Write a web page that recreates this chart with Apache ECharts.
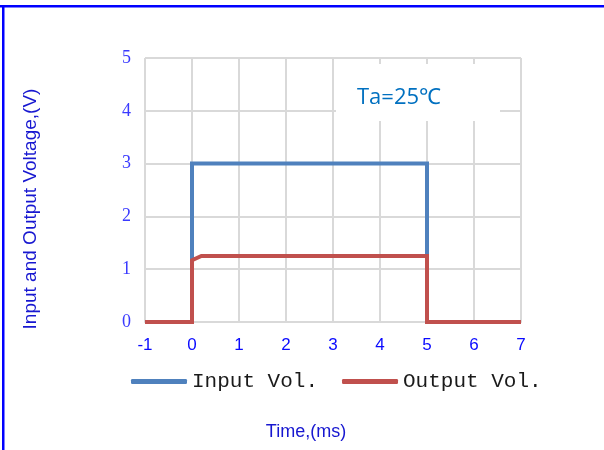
<!DOCTYPE html>
<html>
<head>
<meta charset="utf-8">
<script src="https://cdn.jsdelivr.net/npm/echarts@6/dist/echarts.min.js"></script>
<style>html,body{margin:0;padding:0;background:#fff;}#c{width:604px;height:450px;}</style>
</head>
<body>
<div id="c"></div>
<script>
var xTicks = [-1, 0, 1, 2, 3, 4, 5, 6, 7];
var yTicks = [0, 1, 2, 3, 4, 5];
var inputX = [-1, 0, 0, 5, 5, 7];
var inputY = [0, 0, 3, 3, 0, 0];
var outputX = [-1, 0, 0, 0.2, 5, 5, 7];
var outputY = [0, 0, 1.17, 1.25, 1.25, 0, 0];
var seriesNames = ['Input Vol.', 'Output Vol.'];
var xTitle = 'Time,(ms)';
var yTitle = 'Input and Output Voltage,(V)';
var note = 'Ta=25℃';

function pairs(xs, ys) { return xs.map(function (x, i) { return [x, ys[i]]; }); }

var chart = echarts.init(document.getElementById('c'), null, {renderer: 'canvas'});
var gridColor = '#d9d9d9';
chart.setOption({
  animation: false,
  backgroundColor: '#ffffff',
  grid: {left: 145, right: 83, top: 58, bottom: 128, containLabel: false},
  legend: {
    data: seriesNames,
    left: 131, top: 371, padding: 0,
    icon: 'roundRect', itemWidth: 56, itemHeight: 5, itemGap: 24,
    textStyle: {fontFamily: 'Liberation Mono', fontSize: 21, color: '#1a1a1a'}
  },
  xAxis: {
    type: 'value', min: xTicks[0], max: xTicks[xTicks.length - 1], interval: 1,
    axisLine: {show: true, lineStyle: {color: gridColor, width: 2}},
    axisTick: {show: false},
    axisLabel: {margin: 15, fontFamily: 'Liberation Sans', fontSize: 17, color: '#0a0aff'},
    splitLine: {show: true, lineStyle: {color: gridColor, width: 2}}
  },
  yAxis: {
    type: 'value', min: yTicks[0], max: yTicks[yTicks.length - 1], interval: 1,
    axisLine: {show: true, lineStyle: {color: gridColor, width: 2}},
    axisTick: {show: false},
    axisLabel: {margin: 14, fontFamily: 'Liberation Serif', fontSize: 18, color: '#3a3aff'},
    splitLine: {show: true, lineStyle: {color: gridColor, width: 2}}
  },
  series: [
    {name: seriesNames[0], type: 'line', data: pairs(inputX, inputY), symbol: 'none',
     color: '#4f81bd', lineStyle: {width: 4, color: '#4f81bd', join: 'miter'}, z: 3},
    {name: seriesNames[1], type: 'line', data: pairs(outputX, outputY), symbol: 'none',
     color: '#c0504d', lineStyle: {width: 4, color: '#c0504d', join: 'miter'}, z: 4}
  ],
  graphic: [
    {type: 'rect', shape: {x: 0, y: 5, width: 604, height: 2.5}, style: {fill: '#0000ff'}, z: 100},
    {type: 'rect', shape: {x: 2, y: 5, width: 2.5, height: 445}, style: {fill: '#0000ff'}, z: 100},
    {type: 'rect', shape: {x: 336, y: 64, width: 164, height: 57}, style: {fill: '#ffffff'}, z: 50},
    {type: 'text', x: 357, y: 98, style: {text: note, fill: '#0070c0', font: '22px "Open Sans"', textVerticalAlign: 'middle'}, z: 51},
    {type: 'text', x: 31, y: 209, rotation: Math.PI / 2,
     style: {text: yTitle, fill: '#1717d0', font: '19px "Liberation Sans"', textAlign: 'center', textVerticalAlign: 'middle'}, z: 51},
    {type: 'text', x: 306, y: 432,
     style: {text: xTitle, fill: '#1717d0', font: '18px "Liberation Sans"', textAlign: 'center', textVerticalAlign: 'middle'}, z: 51}
  ]
});
</script>
</body>
</html>
